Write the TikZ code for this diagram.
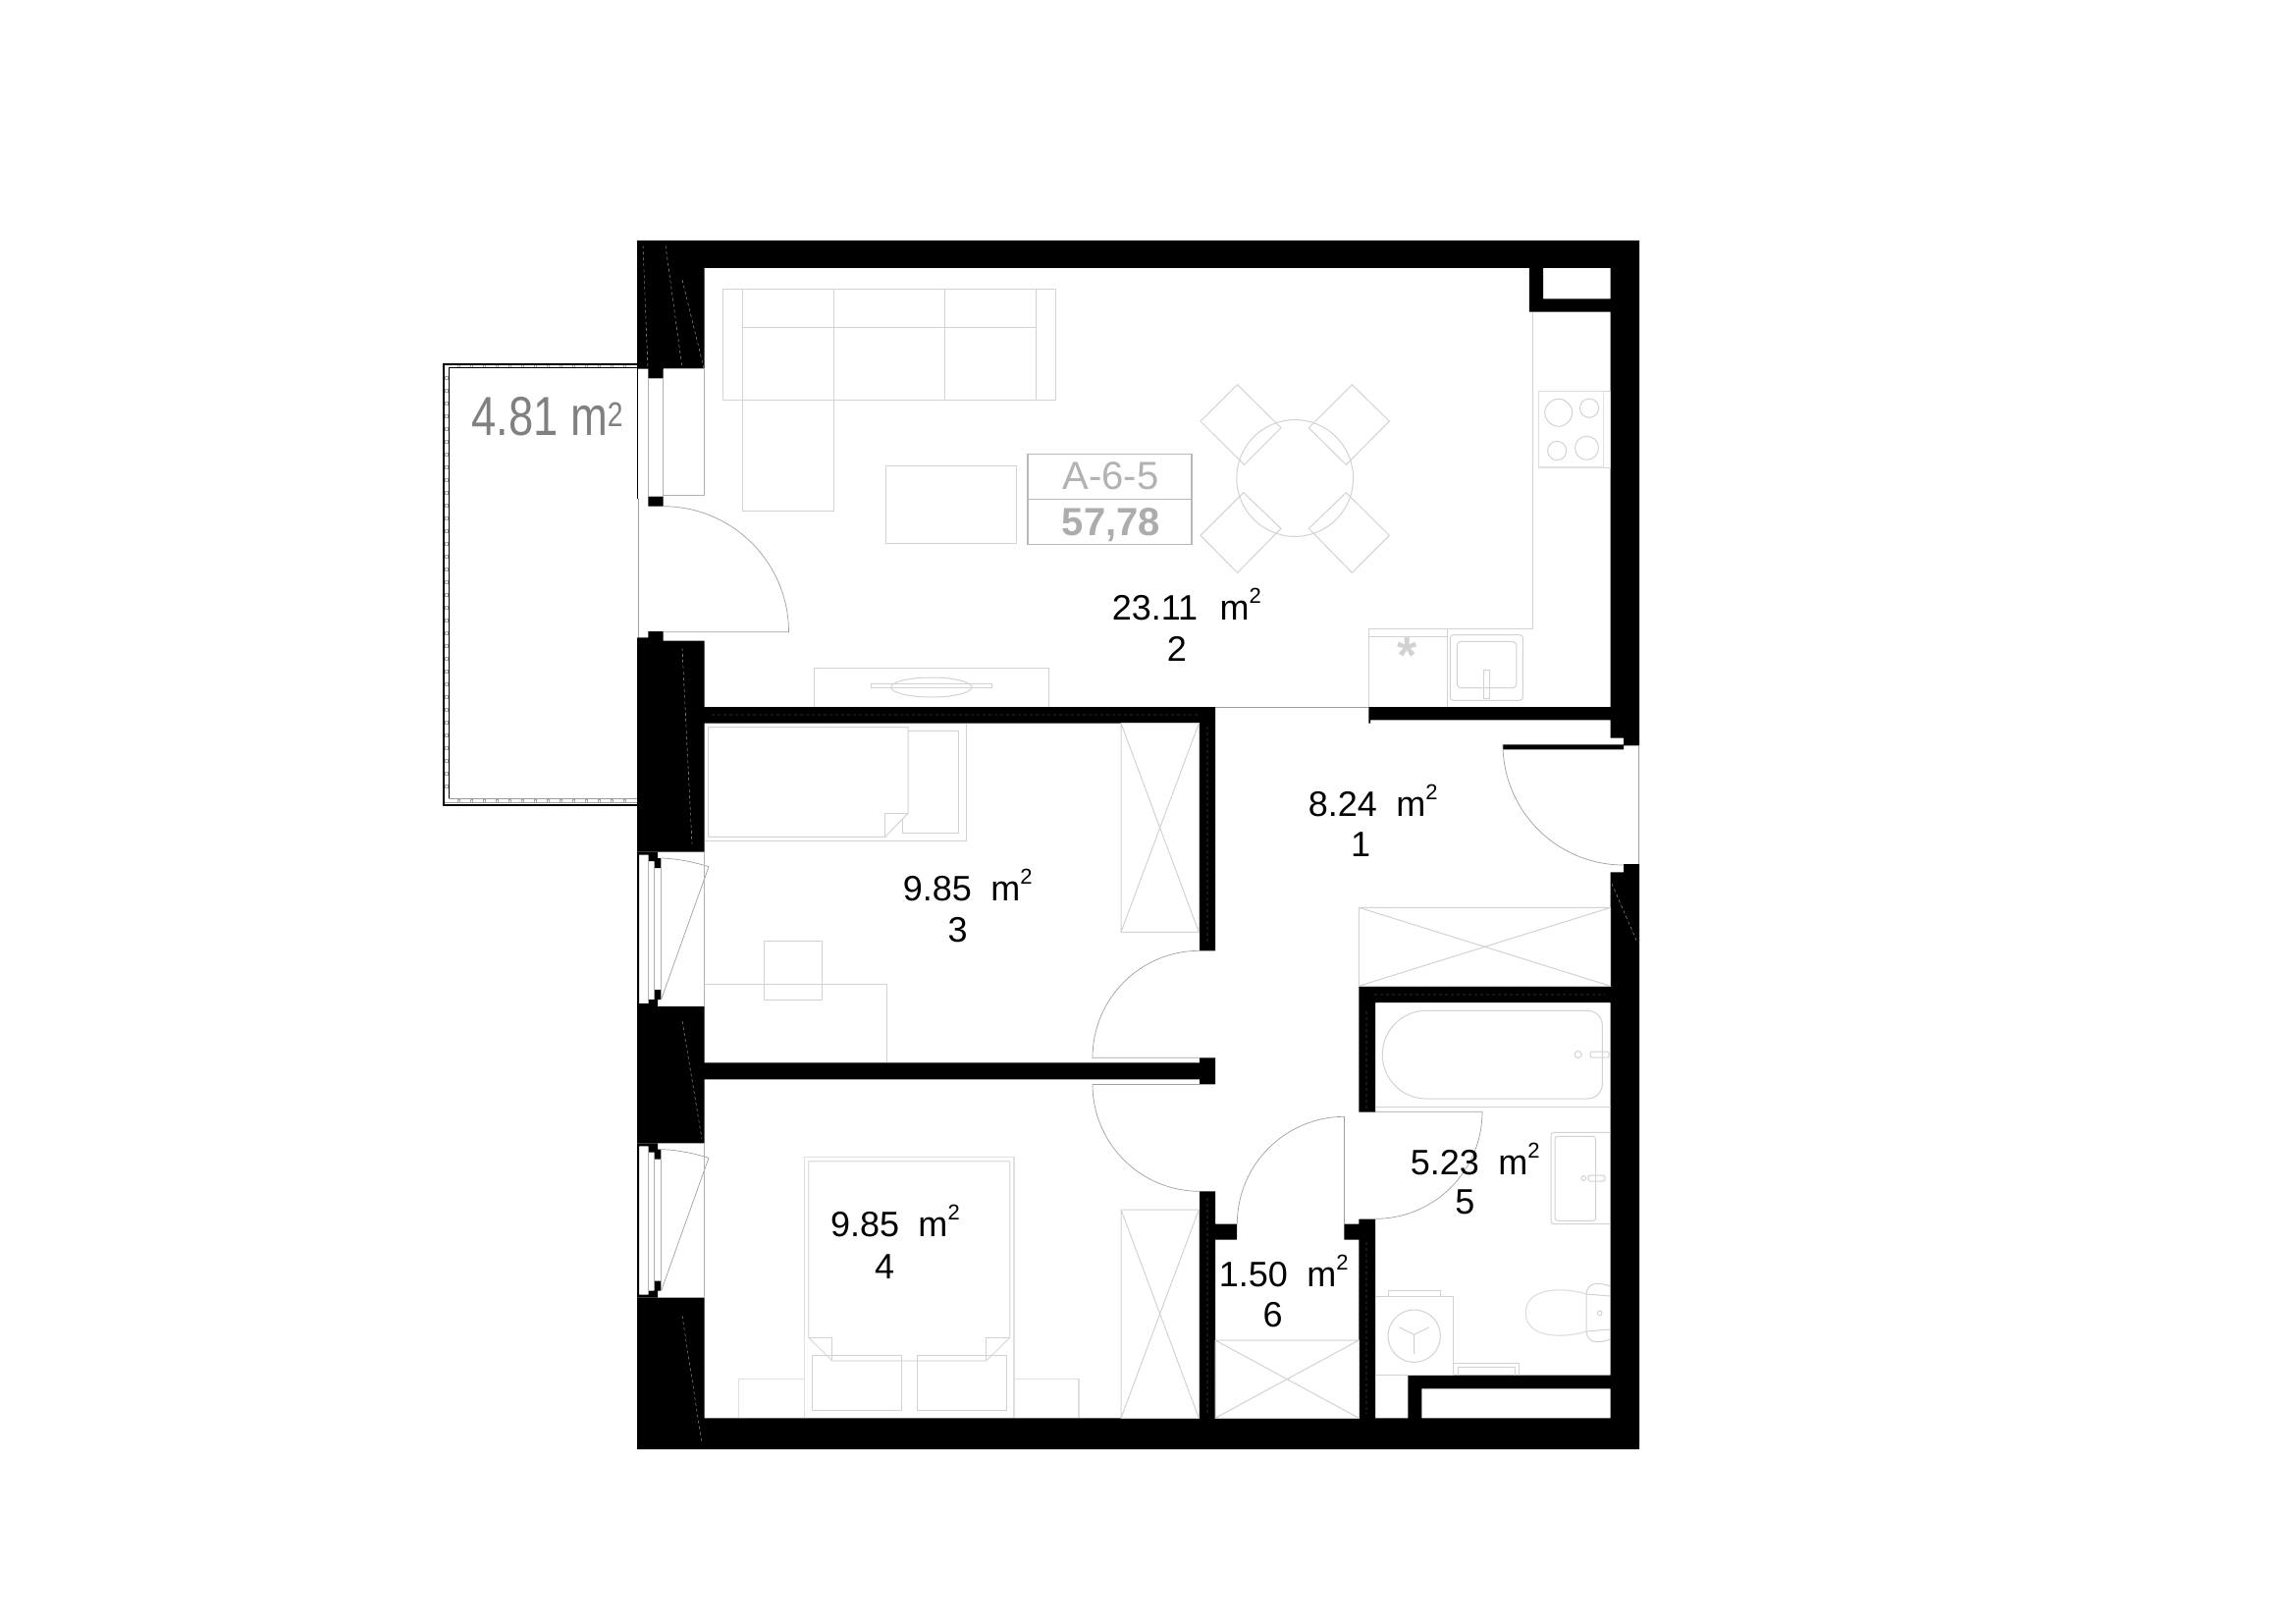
\documentclass[tikz,border=0pt]{standalone}
\usepackage{fontspec}
\setmainfont{Liberation Sans}
\usetikzlibrary{positioning}
\newcommand{\sqmtext}[2][.54em]{#2\hspace{#1}m\raisebox{.47em}{\fontsize{22}{22}\selectfont 2}}
\tikzset{
  wallfill/.style={fill=black},
  wallmark/.style={draw=gray!60,line width=.4pt,dashed},
  furn/.style={draw=gray!35,line width=1pt},
  furnlight/.style={draw=gray!25,line width=1.2pt},
  doorline/.style={draw=gray!75,line width=.7pt},
  framebox/.style={draw=gray!60,line width=.8pt},
  raildot/.style={draw=gray!70,line width=.6pt},
  roomtext/.style={inner sep=0pt,font=\fontsize{36}{36}\selectfont},
}
\begin{document}
\begin{tikzpicture}[x=1pt,y=-1pt]
    \useasboundingbox (0,0) rectangle (2339,1653);

    \fill[wallfill] (649,245) rectangle (1670,273)
        (649,1444.3) rectangle (1670,1476)
        (649,245) rectangle (717.5,375.7)
        (660.4,375.7) rectangle (675.5,385.3)
        (660.4,505) rectangle (675.5,515.7)
        (660.4,643) rectangle (675.5,652.7)
        (649,649.3) rectangle (675.5,652.7)
        (649,652.7) rectangle (717.5,867.7)
        (649,1025) rectangle (717.5,1164.3)
        (649,1321.7) rectangle (717.5,1476)
        (1640.7,245) rectangle (1670,751.7)
        (1654,751.7) rectangle (1670,759.3)
        (1654,880) rectangle (1670,888.3)
        (1640.7,888.3) rectangle (1670,1476)
        (1531,758.3) rectangle (1654,763.3)
        (1557.8,273) rectangle (1572,317.7)
        (1557.8,304.3) rectangle (1640.7,317.7)
        (717.5,720) rectangle (1238,736.7)
        (1222,720) rectangle (1238,968.3)
        (717.5,1082.3) rectangle (1222,1099.3)
        (1222,1077.3) rectangle (1238,1104.3)
        (1222,1213.3) rectangle (1238,1444.3)
        (1238,1246.7) rectangle (1260,1262.7)
        (1369.3,1246.7) rectangle (1384.3,1262.7)
        (1384.3,1241.7) rectangle (1401,1444.3)
        (1394.3,720) rectangle (1640.7,733.3)
        (1394.3,733.3) rectangle (1396,736.7)
        (1384.3,1004.3) rectangle (1640.7,1021)
        (1384.3,1004.3) rectangle (1401,1132.7)
        (1434.3,1400.7) rectangle (1640.7,1414.3)
        (1434.3,1400.7) rectangle (1448.3,1444.3);

    \foreach \wy in {0,296.6} {
        \begin{scope}[shift={(0,\wy)}]
            \fill[wallfill] (649,867.7) rectangle (651,1025)
                (649,867.7) rectangle (670,870.7)
                (660.7,870.7) rectangle (670,877)
                (666.7,874) rectangle (673.3,884)
                (666.7,1008) rectangle (673.3,1018)
                (660.7,1018) rectangle (670,1025)
                (649,1022) rectangle (670,1025);
            \draw[framebox] (660.7,877) -- (660.7,1018) (666.7,884) -- (666.7,1008) (673.3,884) -- (673.3,1008);
            \draw[doorline] (673.6,874) .. controls (690,874.5) and (707,878) .. (722,882.7) -- (673.6,1018);
            \draw[furn,draw=gray!60] (717.3,867.7) -- (717.3,1025);
        \end{scope}
    }

    \draw[line width=1.8pt] (648.5,371) -- (451.9,371) -- (451.9,819.7) -- (649,819.7);
    \draw[line width=1.3pt] (649,374.5) -- (457.3,374.5) -- (457.3,813.5);
    \draw[draw=gray!75,line width=1pt] (457.3,813.8) -- (649,813.8) (453,817.6) -- (649,817.6);
    \foreach \dotx in {467,480,...,640} {
        \draw[raildot] (\dotx-1.2,372) -- (\dotx-1.2,373.8) (\dotx+1.2,372) -- (\dotx+1.2,373.8);
        \draw[raildot] (\dotx-1.2,814) rectangle (\dotx+1.2,817.5);
    }
    \foreach \doty in {385,398,...,808} {
        \draw[raildot] (453,\doty-1.3) rectangle (456.6,\doty+1.3);
    }
    \draw[line width=.8pt] (649.6,374) -- (649.6,508);

    \draw[doorline] (650,508) -- (650,649.3);
    \draw[framebox] (660.4,385.3) rectangle (675.5,505);
    \draw[framebox] (675.5,375.7) -- (717,375.7) -- (717,504) -- (675.5,504);
    \draw[doorline] (675.5,515.7) arc[start angle=90,end angle=0,radius=128pt] -- (675.5,643.7);
    \draw[doorline] (1222,968.3) arc[start angle=90,end angle=180,radius=109pt] -- (1222,1077.3);
    \draw[doorline] (1113,1104.3) arc[start angle=180,end angle=270,radius=109pt];
    \draw[doorline] (1113,1104.3) -- (1222,1104.3);
    \draw[doorline] (1369.7,1137.3) arc[start angle=90,end angle=180,radius=109.4pt];
    \draw[doorline] (1369.7,1137.3) -- (1369.7,1246.7);
    \draw[doorline] (1401,1132.3) -- (1510,1132.3) arc[start angle=0,end angle=-90,radius=109pt];
    \draw[doorline] (1531,758) arc[start angle=180,end angle=270,radius=123pt];
    \draw[doorline] (1669,759.3) -- (1669,880);
    \draw[doorline] (1238,720) -- (1394.3,720);

    \draw[wallmark] (655,250) -- (660,375) (678,250) -- (695,375) (695,285) -- (717,375)
        (695,660) -- (705,860) (695,1040) -- (715,1160) (695,1340) -- (715,1470)
        (1230,740) -- (1230,960) (1230,1220) -- (1230,1440) (1392,1030) -- (1392,1130)
        (1392,1265) -- (1392,1440) (1400,1013) -- (1635,1013) (725,728) -- (1220,728)
        (1642,900) -- (1668,960);

    \draw[furn] (736.2,294.3) rectangle (1075.5,407.7)
        (756.3,294.3) -- (756.3,520.7) -- (849.6,520.7) -- (849.6,294.3)
        (962.6,294.3) -- (962.6,407.7)
        (1055.4,294.3) -- (1055.4,407.7)
        (756.3,333.3) -- (1055.4,333.3);
    \draw[furn] (902.3,474.3) rectangle (1035.4,553.3);
    \draw[furn] (829.5,720) -- (829.5,680.3) -- (1068.4,680.3) -- (1068.4,720);
    \draw[furn] (887.6,696.7) rectangle (1010.4,700.7);
    \draw[furn] (948.8,700) ellipse [x radius=41pt,y radius=10pt];

    \draw[furn] (1319.2,487) circle [radius=59.4pt];
    \draw[furn] (1223,429) -- (1260.5,391.7) -- (1305,435.7) -- (1267.4,473.3) -- cycle;
    \draw[furn] (1415.3,429) -- (1377.4,391.7) -- (1333.3,435.7) -- (1371.3,473.3) -- cycle;
    \draw[furn] (1223,545.3) -- (1260.5,583.3) -- (1305,538.3) -- (1266.7,501.7) -- cycle;
    \draw[furn] (1415.3,545.3) -- (1377.4,583.3) -- (1333.3,538.3) -- (1371.3,501.7) -- cycle;

    \draw[framebox,draw=gray!55,line width=1.2pt] (1047,462.7) rectangle (1214,554.3);
    \draw[framebox,draw=gray!55,line width=1.2pt] (1047,508.7) -- (1214,508.7);
    \node[inner sep=0pt,anchor=base,text=gray!60,font=\fontsize{40}{40}\selectfont] (flatid) at (1131.5,498) {A-6-5};
    \node[inner sep=0pt,anchor=base,text=gray!65,font=\fontsize{40}{40}\selectfont\bfseries] (flatarea) at (1132,545) {57,78};

    \draw[furn] (1561,317.7) -- (1561,640.7) -- (1394.6,640.7) -- (1394.6,720);
    \draw[furn] (1474.7,640.7) -- (1474.7,720) (1394.6,648.3) -- (1474.7,648.3);
    \node[inner sep=0pt,anchor=base,text=gray!35,font=\fontsize{52}{52}\selectfont\bfseries] (fridgemark) at (1433.5,685) {*};
    \draw[furn,rounded corners=3pt] (1477.4,646.7) rectangle (1551.3,713.3);
    \draw[furn,rounded corners=4pt] (1484.3,653.3) rectangle (1544.8,700.7);
    \draw[furn] (1511.9,682) rectangle (1517.3,711.7);
    \draw[furnlight] (1567.4,398.3) rectangle (1633.7,476);
    \draw[furn] (1633.7,398.3) -- (1640.7,398.3) -- (1640.7,476) -- (1633.7,476);
    \draw[furn] (1587.7,420.3) circle [radius=13.9pt] (1619,415.7) circle [radius=9.6pt]
        (1586.2,459) circle [radius=9.6pt] (1616.5,456.3) circle [radius=12pt];

    \draw[furn] (984,736.7) -- (984,856.3) -- (717.5,856.3);
    \draw[furn] (721.7,740.7) -- (925,740.7) -- (925,828.3) -- (901.8,852.3) -- (721.7,852.3) -- cycle;
    \draw[furn] (901.8,852.3) -- (901.8,828.3) -- (925,828.3);
    \draw[furn] (925,744.3) -- (976,744.3) -- (976,848.3) -- (919.6,848.3) -- (919.6,835);
    \draw[furn] (717.5,1002.7) -- (903.9,1002.7) -- (903.9,1082.3);
    \draw[furn] (778,958.3) rectangle (837.9,1018.3);

    \foreach \bx/\by/\cx/\cy in {1142/736.7/1221.3/949.3,1142/1232/1221.3/1444.3,1384.3/924.3/1640.7/1004.3,1238/1365/1384.3/1444.3} {
        \draw[furn] (\bx,\by) rectangle (\cx,\cy) (\bx,\by) -- (\cx,\cy) (\bx,\cy) -- (\cx,\by);
    }

    \draw[furnlight] (819.6,1444.3) -- (819.6,1178.3) -- (1032.9,1178.3) -- (1032.9,1444.3);
    \draw[furnlight] (823.8,1182.7) -- (1028.8,1182.7) -- (1028.8,1362.3) -- (1004.7,1386) -- (847.8,1386) -- (823.8,1362.3) -- cycle;
    \draw[furn] (823.8,1362.3) -- (847.8,1362.3) -- (847.8,1386) (1028.8,1362.3) -- (1004.7,1362.3) -- (1004.7,1386);
    \draw[furn] (827.5,1380.7) rectangle (918,1436.7) (934.2,1380.7) rectangle (1025,1436.7);
    \draw[furnlight] (752.8,1444.3) -- (752.8,1404.3) -- (819.6,1404.3) (1032.9,1404.3) -- (1098.9,1404.3) -- (1098.9,1444.3);

    \draw[furn] (1408.3,1074) arc[start angle=180,end angle=90,radius=44.7pt] -- (1617.3,1029.3)
        arc[start angle=90,end angle=0,radius=15pt] -- (1632.3,1104)
        arc[start angle=0,end angle=-90,radius=15pt] -- (1453,1119)
        arc[start angle=270,end angle=180,radius=44.7pt];
    \draw[furn] (1607.7,1074) circle [radius=3.5pt];
    \draw[furn,rounded corners=2pt] (1620,1071) rectangle (1639,1077);
    \draw[furn] (1401,1127.7) -- (1640.7,1127.7);
    \draw[furn,rounded corners=3pt] (1640.7,1153.3) -- (1580,1153.3) -- (1580,1246.7) -- (1640.7,1246.7);
    \draw[furn,rounded corners=3pt] (1584,1157.3) rectangle (1625.7,1243.3);
    \draw[furn] (1613.3,1200) circle [radius=2.5pt];
    \draw[furn,rounded corners=2pt] (1618,1197) rectangle (1635,1203);
    \draw[furnlight] (1616,1318) .. controls (1590,1310) and (1554,1312) .. (1554.3,1337) .. controls (1554,1362) and (1590,1364) .. (1616,1356);
    \draw[furn] (1640,1310) .. controls (1630,1306) and (1617,1305) .. (1616,1318) -- (1616,1356) .. controls (1617,1369) and (1630,1368) .. (1640,1364);
    \draw[furn] (1616,1318) -- (1640,1320) (1616,1356) -- (1640,1354);
    \draw[furn] (1629.7,1337.3) circle [radius=2.3pt];
    \draw[furn] (1401,1320.7) -- (1480.7,1320.7) -- (1480.7,1400.7) -- (1401,1400.7);
    \draw[furn] (1414,1320.7) -- (1414,1314.3) -- (1467.7,1314.3) -- (1467.7,1320.7);
    \draw[furn] (1440.7,1360.7) circle [radius=26.7pt];
    \draw[furn] (1440.7,1359.3) -- (1425,1351.7) (1440.7,1359.3) -- (1456,1351.7) (1440.7,1359.3) -- (1440.7,1379);
    \draw[furn] (1480.7,1388.3) -- (1547.3,1388.3) -- (1547.3,1400.7) (1485,1400.7) -- (1485,1392.7) -- (1543.3,1392.7) -- (1543.3,1400.7);

    \node[inner sep=0pt,anchor=base west,text=black!50,font=\fontsize{56}{56}\selectfont] (balconyarea) at (480,443) {\scalebox{.81}[1]{4.81 m\raisebox{.15em}{\fontsize{35}{35}\selectfont 2}}};

    \node[roomtext,anchor=base west] (area2) at (1132.6,631.7) {\sqmtext[.62em]{23.11}};
    \node[roomtext,anchor=base] (num2) at (1198.9,673.3) {2};
    \node[roomtext,anchor=base west] (area1) at (1332.7,831) {\sqmtext{8.24}};
    \node[roomtext,anchor=base] (num1) at (1386,872.3) {1};
    \node[roomtext,anchor=base west] (area3) at (919.6,917.3) {\sqmtext{9.85}};
    \node[roomtext,anchor=base] (num3) at (975.6,959.3) {3};
    \node[roomtext,anchor=base west] (area4) at (845.8,1259.3) {\sqmtext{9.85}};
    \node[roomtext,anchor=base] (num4) at (901,1302.7) {4};
    \node[roomtext,anchor=base west] (area5) at (1436.7,1196.7) {\sqmtext{5.23}};
    \node[roomtext,anchor=base] (num5) at (1492.3,1236.7) {5};
    \node[roomtext,anchor=base west] (area6) at (1241.7,1310.7) {\sqmtext{1.50}};
    \node[roomtext,anchor=base] (num6) at (1296.7,1351) {6};
\end{tikzpicture}
\end{document}
